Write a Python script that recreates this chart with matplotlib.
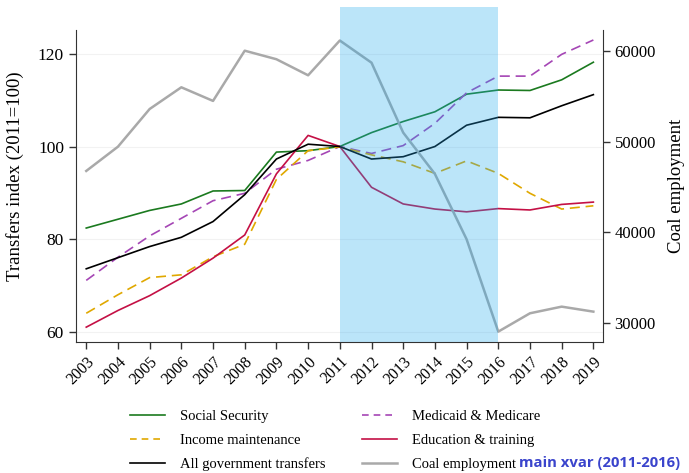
import matplotlib
matplotlib.use("Agg")
import matplotlib.pyplot as plt
from matplotlib.lines import Line2D

years = list(range(2003, 2020))

social_security = [82.4, 84.3, 86.2, 87.6, 90.4, 90.5, 98.8, 99.1, 100.0,
                   103.0, 105.4, 107.5, 111.3, 112.2, 112.1, 114.4, 118.2]
medicaid_medicare = [71.1, 76.1, 80.7, 84.5, 88.3, 89.9, 95.1, 97.0, 100.0,
                     98.5, 100.2, 105.0, 111.6, 115.2, 115.2, 119.9, 123.0]
income_maint = [64.0, 68.0, 71.7, 72.3, 76.2, 78.9, 92.9, 99.1, 99.9,
                98.2, 96.7, 94.2, 96.9, 94.2, 89.9, 86.5, 87.2]
education = [61.0, 64.6, 67.8, 71.6, 75.9, 80.9, 94.1, 102.4, 100.0,
             91.2, 87.6, 86.5, 85.9, 86.6, 86.3, 87.5, 88.0]
all_transfers = [73.6, 76.0, 78.4, 80.4, 83.8, 89.6, 97.3, 100.5, 100.0,
                 97.3, 97.8, 100.0, 104.6, 106.3, 106.2, 108.8, 111.2]
coal_emp = [46770, 49440, 53590, 55980, 54480, 60010, 59070, 57300, 61130,
            58690, 50990, 46440, 39250, 29080, 31100, 31830, 31280]

shade_start, shade_end = 2011, 2016

plt.rcParams['font.family'] = ['Liberation Serif', 'DejaVu Serif']

fig = plt.figure(figsize=(6.89, 4.73), dpi=100)
ax = fig.add_axes([0.110, 0.277, 0.765, 0.660])
ax2 = ax.twinx()

c_green = '#1b7a1f'
c_gold = '#e0a800'
c_purple = '#a546b5'
c_red = '#c41045'
c_gray = '#a9a9a9'

ax.plot(years, social_security, color=c_green, lw=1.2)
ax.plot(years, medicaid_medicare, color=c_purple, lw=1.2, dashes=(6, 3.5))
ax.plot(years, income_maint, color=c_gold, lw=1.2, dashes=(6, 3.5))
ax.plot(years, education, color=c_red, lw=1.2)
ax.plot(years, all_transfers, color='black', lw=1.2)
ax2.plot(years, coal_emp, color=c_gray, lw=1.8, zorder=2)

# shaded period drawn on top, a bit above the plot area like the original
span = ax2.axvspan(shade_start, shade_end, ymin=0, ymax=1.074,
                   color='#1fa9ee', alpha=0.3, lw=0, zorder=5)
span.set_clip_on(False)

ax.set_xlim(2002.67, 2019.3)
ax.set_ylim(57.8, 125.2)
ax2.set_ylim(27940, 62310)
ax.set_yticks([60, 80, 100, 120])
ax2.set_yticks([30000, 40000, 50000, 60000])
ax.set_xticks(years)
ax.set_xticklabels([str(y) for y in years], rotation=45, ha='right',
                   rotation_mode='anchor', fontsize=11.5)
ax.tick_params(axis='y', labelsize=12.5)
ax2.tick_params(axis='y', labelsize=12)
for a in (ax, ax2):
    a.tick_params(length=5, width=1, color='#333333')
ax.grid(axis='y', color='#f2f2f2', lw=0.8)
ax.set_axisbelow(True)

ax.spines['top'].set_visible(False)
ax2.spines['top'].set_visible(False)
ax.spines['right'].set_visible(False)
for s in ['left', 'bottom']:
    ax.spines[s].set_color('#333333')
ax2.spines['right'].set_color('#333333')
ax2.spines['left'].set_visible(False)
ax2.spines['bottom'].set_visible(False)

ax.set_ylabel('Transfers index (2011=100)', fontsize=13.5)
ax.yaxis.set_label_coords(-0.098, 0.53)
ax2.set_ylabel('Coal employment', fontsize=13.5)
ax2.yaxis.set_label_coords(1.124, 0.5)

h_ss = Line2D([], [], color=c_green, lw=1.2)
h_im = Line2D([], [], color=c_gold, lw=1.2, dashes=(4, 3))
h_all = Line2D([], [], color='black', lw=1.2)
h_mm = Line2D([], [], color=c_purple, lw=1.2, dashes=(4, 3))
h_ed = Line2D([], [], color=c_red, lw=1.2)
h_coal = Line2D([], [], color=c_gray, lw=1.8)

leg_kw = dict(loc='upper left', frameon=False, fontsize=10.5,
              handlelength=2.4, handletextpad=1.0, labelspacing=0.72,
              borderpad=0, borderaxespad=0)
fig.legend([h_ss, h_im, h_all],
           ['Social Security', 'Income maintenance', 'All government transfers'],
           bbox_to_anchor=(130 / 689, 0.133), **leg_kw)
fig.legend([h_mm, h_ed, h_coal],
           ['Medicaid & Medicare', 'Education & training', 'Coal employment'],
           bbox_to_anchor=(362 / 689, 0.133), **leg_kw)

fig.text(680 / 689, 0.021, 'main xvar (2011-2016)', ha='right', va='center',
         fontsize=10.7, fontweight='bold', color='#3a44cc',
         family=['Open Sans', 'DejaVu Sans'])

fig.savefig('out.png', dpi=100)
